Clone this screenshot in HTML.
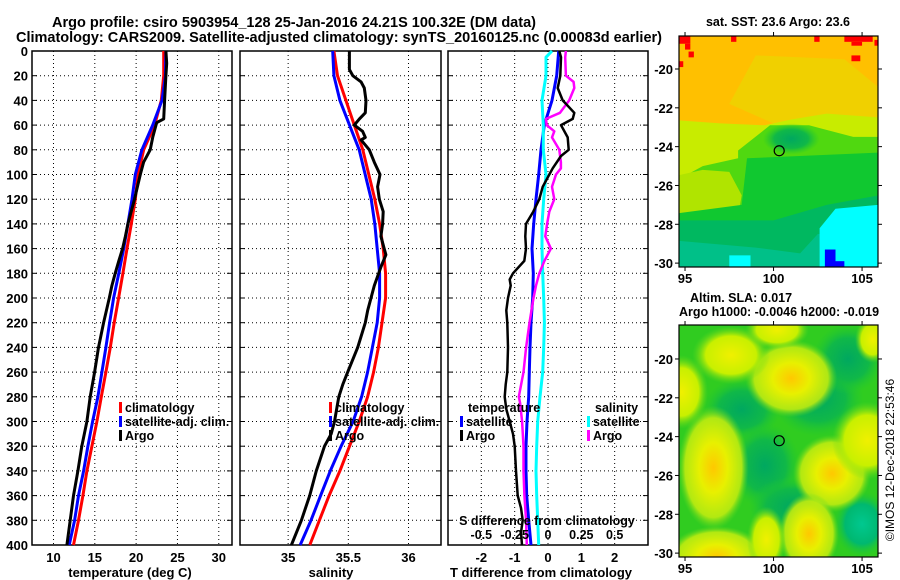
<!DOCTYPE html>
<html><head><meta charset="utf-8">
<style>
html,body{margin:0;padding:0;background:#fff;}
svg{display:block;font-family:"Liberation Sans",Arial,sans-serif;font-weight:bold;}
</style></head>
<body>
<svg id="fig" width="900" height="580" viewBox="0 0 900 580" xmlns="http://www.w3.org/2000/svg">
<defs>
<clipPath id="clipM1"><rect x="679" y="36" width="199" height="231"/></clipPath>
<clipPath id="clipM2"><rect x="679" y="325" width="199" height="232"/></clipPath>
<radialGradient id="gY"><stop offset="0" stop-color="#ffc800"/><stop offset="0.4" stop-color="#e8f000"/><stop offset="0.8" stop-color="#c0ec10" stop-opacity="0.9"/><stop offset="1" stop-color="#60d820" stop-opacity="0"/></radialGradient>
<radialGradient id="gL"><stop offset="0" stop-color="#f0f000"/><stop offset="0.65" stop-color="#c8f000"/><stop offset="1" stop-color="#60d820" stop-opacity="0"/></radialGradient>
<radialGradient id="gD"><stop offset="0" stop-color="#00a860"/><stop offset="0.6" stop-color="#10b848"/><stop offset="1" stop-color="#20c830" stop-opacity="0"/></radialGradient>
<radialGradient id="gT"><stop offset="0" stop-color="#00c890"/><stop offset="0.6" stop-color="#00b870"/><stop offset="1" stop-color="#20c830" stop-opacity="0"/></radialGradient>
</defs>
<g id="titles">
<text x="52" y="27" font-size="15" textLength="484" lengthAdjust="spacingAndGlyphs">Argo profile: csiro 5903954_128 25-Jan-2016 24.21S 100.32E (DM data)</text>
<text x="16" y="42" font-size="15" textLength="646" lengthAdjust="spacingAndGlyphs">Climatology: CARS2009. Satellite-adjusted climatology: synTS_20160125.nc (0.00083d earlier)</text>
</g>
<g id="plots"></g>
<g id="maps"></g>
</svg>
<script>
// ---------- data ----------
const depthTicks = [0,20,40,60,80,100,120,140,160,180,200,220,240,260,280,300,320,340,360,380,400];
const depthGrid = [0,20,40,60,80,100,120,140,160,180,200,220,240,260,280,300,320,340,360,380,400];
const tempTicks = [10,15,20,25,30];
const salTicks = [35,35.5,36];
const salTickLabels = ["35","35.5","36"];
const tdiffTicks = [-2,-1,0,1,2];
const sdiffTicks = [-0.5,-0.25,0,0.25,0.5];
const sdiffTickLabels = ["-0.5","-0.25","0","0.25","0.5"];

const climT = [23.33,23.33,23.05,22.24,20.91,20.22,19.90,19.41,18.89,18.40,17.88,17.35,16.87,16.34,15.78,15.25,14.65,14.04,13.56,13.03,12.42];
const satT = [23.6,23.55,23.13,22.0,20.7,19.9,19.5,19.0,18.5,17.9,17.27,16.79,16.34,15.86,15.37,14.73,14.16,13.64,13.03,12.55,11.9];
const argoTDepth = [0,10,20,40,55,58,60,70,80,90,100,120,140,150,160,170,180,190,200,220,240,260,280,300,320,340,360,380,400];
const argoT = [23.6,23.7,23.6,23.45,23.33,22.5,22.4,22.0,21.7,20.9,20.5,19.8,19.0,18.7,18.36,17.9,17.47,17.07,16.75,16.06,15.45,14.97,14.44,14.04,13.43,12.95,12.42,12.02,11.62];

const climS = [35.38,35.41,35.48,35.55,35.62,35.67,35.72,35.76,35.79,35.81,35.81,35.78,35.75,35.71,35.66,35.59,35.51,35.43,35.34,35.26,35.18];
const satS = [35.37,35.38,35.43,35.51,35.59,35.64,35.69,35.72,35.74,35.76,35.76,35.74,35.70,35.66,35.61,35.54,35.44,35.35,35.27,35.19,35.10];
const argoSDepth = [0,15,20,25,30,40,50,55,60,65,70,72,80,90,100,110,120,130,140,150,160,165,175,180,190,200,210,220,240,260,270,280,300,310,320,340,360,380,400];
const argoS = [35.509,35.509,35.537,35.606,35.633,35.647,35.641,35.592,35.550,35.619,35.641,35.606,35.674,35.716,35.763,35.743,35.757,35.790,35.785,35.771,35.798,35.812,35.771,35.752,35.716,35.688,35.661,35.641,35.578,35.495,35.454,35.421,35.385,35.358,35.302,35.234,35.179,35.110,35.027];

const satTdiff = [0.32,0.26,0.12,-0.11,-0.21,-0.28,-0.36,-0.43,-0.48,-0.44,-0.46,-0.51,-0.54,-0.56,-0.58,-0.63,-0.66,-0.66,-0.64,-0.58,-0.51];
const argoTdiffDepth = [0,5,20,30,40,50,55,60,70,80,85,95,100,110,120,130,140,150,160,170,180,185,190,200,210,220,240,260,270,280,290,300,310,320,340,360,370,380,390,400];
const argoTdiff = [0.34,0.39,0.37,0.29,0.44,0.79,0.74,0.39,0.59,0.62,0.39,0.14,0.04,-0.16,-0.26,-0.44,-0.66,-0.68,-0.66,-0.71,-1.05,-1.15,-1.12,-1.20,-1.25,-1.22,-1.20,-1.22,-1.27,-1.30,-1.25,-1.15,-1.05,-1.00,-0.96,-0.91,-0.81,-0.76,-0.81,-0.78];
const satSdiffDepth = [0,5,20,40,60,80,100,120,140,160,180,200,220,240,260,280,300,320,340,360,380,400];
const satSdiff = [0.03,-0.015,-0.015,-0.045,-0.035,-0.035,-0.015,-0.032,-0.045,-0.045,-0.04,-0.032,-0.027,-0.032,-0.04,-0.06,-0.077,-0.085,-0.09,-0.085,-0.077,-0.07];
const argoSdiffDepth = [0,5,20,25,30,40,50,55,60,65,70,80,90,95,100,110,120,130,140,150,160,170,180,190,200,220,240,260,280,285,300,320,340,360,380,400];
const argoSdiff = [0.134,0.129,0.134,0.192,0.197,0.159,0.090,-0.015,-0.010,0.047,0.030,0.085,0.097,0.097,0.060,0.030,0.047,0.010,-0.007,-0.020,0.022,-0.027,-0.065,-0.090,-0.109,-0.139,-0.164,-0.184,-0.219,-0.209,-0.194,-0.184,-0.184,-0.177,-0.164,-0.159];

const mapLatTicks = [-20,-22,-24,-26,-28,-30];
const mapLonTicks = [95,100,105];

// ---------- helpers ----------
const NS = "http://www.w3.org/2000/svg";
const plots = document.getElementById('plots');
const mapsG = document.getElementById('maps');
function mk(tag, attrs, parent){
  const e = document.createElementNS(NS, tag);
  for (const k in attrs) e.setAttribute(k, attrs[k]);
  (parent||plots).appendChild(e);
  return e;
}
const TOP = 51, BOT = 545;
function yD(d){ return TOP + (BOT-TOP)*d/400; }

function panel(name, x0, x1, xmin, xmax){
  const sx = v => x0 + (x1-x0)*(v-xmin)/(xmax-xmin);
  return {name, x0, x1, sx};
}
const p1 = panel('temperature', 32, 232, 7.4, 31.6);
const p2 = panel('salinity', 240, 441, 34.6, 36.27);
const p3 = panel('difference', 448, 648, -3, 3);
const sxS = v => p3.sx(v*4);

function frame(p, xticks, name){
  const g = mk('g', {});
  
  
  depthTicks.forEach(d=>{
    if (d===0||d===400) return;
    const gl = mk('line', {x1:p.x0, x2:p.x1, y1:yD(d), y2:yD(d), stroke:'#000', 'stroke-width':1, 'stroke-dasharray':'1,3'}, g);
    
    
    mk('line', {x1:p.x0, x2:p.x0+5, y1:yD(d), y2:yD(d), stroke:'#000'}, g);
    mk('line', {x1:p.x1-5, x2:p.x1, y1:yD(d), y2:yD(d), stroke:'#000'}, g);
  });
  xticks.forEach(v=>{
    const x = p.sx(v);
    const gl = mk('line', {x1:x, x2:x, y1:TOP, y2:BOT, stroke:'#000', 'stroke-width':1, 'stroke-dasharray':'1,3'}, g);
    
    
  });
  mk('rect', {x:p.x0, y:TOP, width:p.x1-p.x0, height:BOT-TOP, fill:'none', stroke:'#000', 'stroke-width':1.5}, g);
  return g;
}
function line(p, sx, vals, depths, color, w, name){
  const pts = vals.map((v,i)=> sx(v).toFixed(1)+','+yD(depths[i]).toFixed(1)).join(' ');
  const e = mk('polyline', {points:pts, fill:'none', stroke:color, 'stroke-width':w, 'stroke-linejoin':'round'});
  
  
  return e;
}
function txt(str, x, y, size, anchor, name, parent){
  const e = mk('text', {x, y, 'font-size':size, 'text-anchor':anchor||'start'}, parent);
  e.textContent = str;
  
  
  return e;
}
function legend(x, y, color, label, name){
  const m = mk('rect', {x:x, y:y-10, width:3, height:11, fill:color});
  
  
  txt(label, x+6, y, 12.5, 'start', name);
}

// ---------- panel 1 ----------
frame(p1, tempTicks, 'temperature-panel');
depthTicks.forEach(d=> txt(String(d), 28, yD(d)+5, 13, 'end', 'y-tick-label'));
tempTicks.forEach(v=> txt(String(v), p1.sx(v), 562, 13, 'middle', 'x-tick-temperature'));
txt('temperature (deg C)', 130, 577, 13, 'middle', 'x-axis-title-temperature');
line(p1, p1.sx, climT, depthGrid, '#ff0000', 3, 'climatology-temperature-line');
line(p1, p1.sx, satT, depthGrid, '#0000ff', 3, 'satellite-temperature-line');
line(p1, p1.sx, argoT, argoTDepth, '#000000', 3, 'argo-temperature-line');
legend(119, 412, '#ff0000', 'climatology', 'legend-climatology');
legend(119, 426, '#0000ff', 'satellite-adj. clim.', 'legend-satellite-adj');
legend(119, 440, '#000000', 'Argo', 'legend-argo');

// ---------- panel 2 ----------
frame(p2, salTicks, 'salinity-panel');
salTicks.forEach((v,i)=> txt(salTickLabels[i], p2.sx(v), 562, 13, 'middle', 'x-tick-salinity'));
txt('salinity', 331, 577, 13, 'middle', 'x-axis-title-salinity');
line(p2, p2.sx, climS, depthGrid, '#ff0000', 3, 'climatology-salinity-line');
line(p2, p2.sx, satS, depthGrid, '#0000ff', 3, 'satellite-salinity-line');
line(p2, p2.sx, argoS, argoSDepth, '#000000', 3, 'argo-salinity-line');
legend(329, 412, '#ff0000', 'climatology', 'legend-climatology-2');
legend(329, 426, '#0000ff', 'satellite-adj. clim.', 'legend-satellite-adj-2');
legend(329, 440, '#000000', 'Argo', 'legend-argo-2');

// ---------- panel 3 ----------
frame(p3, tdiffTicks, 'difference-panel');
tdiffTicks.forEach(v=> txt(String(v), p3.sx(v), 562, 13, 'middle', 'x-tick-tdiff'));
txt('T difference from climatology', 541, 577, 13, 'middle', 'x-axis-title-tdiff');
line(p3, p3.sx, satTdiff, depthGrid, '#0000ff', 3, 'satellite-tdiff-line');
line(p3, sxS, satSdiff, satSdiffDepth, '#00ffff', 3, 'satellite-sdiff-line');
line(p3, sxS, argoSdiff, argoSdiffDepth, '#ff00ff', 2.5, 'argo-sdiff-line');
line(p3, p3.sx, argoTdiff, argoTdiffDepth, '#000000', 2.5, 'argo-tdiff-line');
txt('temperature', 468, 412, 12.5, 'start', 'legend-header-temperature');
legend(460, 426, '#0000ff', 'satellite', 'legend-t-satellite');
legend(460, 440, '#000000', 'Argo', 'legend-t-argo');
txt('salinity', 595, 412, 12.5, 'start', 'legend-header-salinity');
legend(587, 426, '#00ffff', 'satellite', 'legend-s-satellite');
legend(587, 440, '#ff00ff', 'Argo', 'legend-s-argo');
txt('S difference from climatology', 547, 525, 12.5, 'middle', 'secondary-axis-title-sdiff');
sdiffTicks.forEach((v,i)=> txt(sdiffTickLabels[i], sxS(v), 539, 12.5, 'middle', 'x-tick-sdiff'));

// ---------- maps ----------
function mapFrame(top, bot, latTop, latBot){
  const L=679, R=878, lonL=94.66, lonR=105.9;
  const mx = lon => L + (R-L)*(lon-lonL)/(lonR-lonL);
  const my = lat => top + (bot-top)*(latTop-lat)/(latTop-latBot);
  return {L,R,top,bot,mx,my};
}
const m1 = mapFrame(36, 267, -18.3, -30.2);
const m2 = mapFrame(325, 557, -18.25, -30.2);

function poly(m, pts, fill, parent, name){
  const e = mk('polygon', {points: pts.map(p=> m.mx(p[0]).toFixed(1)+','+m.my(p[1]).toFixed(1)).join(' '), fill}, parent);
  
  
}
function rectD(m, lon0, lat0, lon1, lat1, fill, parent, name){
  const e = mk('rect', {x:m.mx(lon0), y:m.my(lat0), width:m.mx(lon1)-m.mx(lon0), height:m.my(lat1)-m.my(lat0), fill}, parent);
  
  
}
function blob(m, lon, lat, rlon, rlat, grad, parent){
  const e = mk('ellipse', {cx:m.mx(lon), cy:m.my(lat), rx:Math.abs(m.mx(lon+rlon)-m.mx(lon)), ry:Math.abs(m.my(lat-rlat)-m.my(lat)), fill:'url(#'+grad+')'}, parent);
  
  
}
function mapAxes(m, name){
  const g = mk('g', {}, mapsG);
  
  
  mk('rect', {x:m.L, y:m.top, width:m.R-m.L, height:m.bot-m.top, fill:'none', stroke:'#000', 'stroke-width':1.2}, g);
  mapLatTicks.forEach(v=>{
    const y = m.my(v);
    mk('line', {x1:m.L-4, x2:m.L, y1:y, y2:y, stroke:'#000'}, g);
    mk('line', {x1:m.R, x2:m.R+4, y1:y, y2:y, stroke:'#000'}, g);
    txt(String(v), m.L-6, y+5, 13, 'end', 'map-lat-tick', g);
  });
  mapLonTicks.forEach(v=>{
    const x = m.mx(v);
    mk('line', {x1:x, x2:x, y1:m.bot, y2:m.bot+4, stroke:'#000'}, g);
    mk('line', {x1:x, x2:x, y1:m.top-4, y2:m.top, stroke:'#000'}, g);
    txt(String(v), x, m.bot+16, 13, 'middle', 'map-lon-tick', g);
  });
  const c = mk('circle', {cx:m.mx(100.32), cy:m.my(-24.21), r:5, fill:'none', stroke:'#000', 'stroke-width':1.2}, g);
  
  
}

// map 1: SST
const g1 = mk('g', {'clip-path':'url(#clipM1)'}, mapsG);


rectD(m1, 94, -18, 106, -31, '#ffc000', g1, 'sst-warm');
poly(m1, [[99,-19.3],[104,-19.5],[106,-21],[106,-22.5],[100,-22.8],[97.5,-21.8]], '#f0d000', g1, 'sst-yellow');
poly(m1, [[94,-22.6],[97,-22.8],[99.5,-22.9],[101,-22.6],[103,-22.3],[106,-22.5],[106,-31],[94,-31]], '#c8ec00', g1, 'sst-yellow-green');
poly(m1, [[98,-24.2],[99.8,-22.9],[102,-22.9],[104.5,-23.5],[106,-23.5],[106,-31],[94,-31],[94,-26],[96,-25],[98,-24.6]], '#50d810', g1, 'sst-green');
blob(m1, 101, -23.6, 1.6, 0.8, 'gD', g1);
poly(m1, [[94,-25.6],[96,-25.2],[97.5,-25.3],[98.2,-26.5],[98,-27.6],[96,-28],[94,-28]], '#b0e400', g1, 'sst-yellow-left');
poly(m1, [[98.5,-24.6],[106,-24.3],[106,-31],[94,-31],[94,-27.5],[98.2,-27]], '#10c830', g1, 'sst-dark-green');
poly(m1, [[94,-27.8],[100,-27.8],[103,-27],[106,-26.5],[106,-31],[94,-31]], '#00b860', g1, 'sst-teal-green');
poly(m1, [[94,-28.8],[99,-29.2],[101.5,-29.5],[102.5,-28.5],[106,-28.5],[106,-31],[94,-31]], '#00c088', g1, 'sst-teal');
poly(m1, [[103.5,-27.2],[105.9,-27],[105.9,-30.3],[102.6,-30.3],[102.6,-28.2]], '#00ffff', g1, 'sst-cyan');
rectD(m1, 97.5, -29.6, 98.7, -30.3, '#00ffff', g1, 'sst-cyan-patch');
rectD(m1, 102.9, -29.3, 103.5, -30.3, '#0000ff', g1, 'sst-blue-patch');
rectD(m1, 103.4, -29.9, 104.0, -30.3, '#0000ff', g1, 'sst-blue-patch');
[[94.66,-18.3,95.3,-18.7],[95.0,-18.7,95.3,-19.0],[94.66,-19.6,94.9,-19.9],[95.2,-19.1,95.5,-19.4],[97.6,-18.3,97.9,-18.6],[102.3,-18.3,102.6,-18.6],[104.0,-18.3,105.6,-18.6],[104.4,-18.6,105.0,-18.8],[104.4,-19.3,104.9,-19.6],[105.7,-18.5,105.9,-18.8]].forEach(r=> rectD(m1, r[0], r[1], r[2], r[3], '#ff0000', g1, 'sst-hot-pixel'));
mapAxes(m1, 'sst-map');
txt('sat. SST: 23.6 Argo: 23.6', 778, 26, 12.5, 'middle', 'sst-map-title');

// map 2: SLA
const g2 = mk('g', {'clip-path':'url(#clipM2)'}, mapsG);


rectD(m2, 94, -18, 106, -31, '#30cc20', g2, 'sla-background');
blob(m2, 98.2, -22.6, 2.2, 1.6, 'gD', g2);
blob(m2, 99.5, -25.5, 2.0, 2.2, 'gD', g2);
blob(m2, 102.5, -22.0, 2.6, 2.0, 'gD', g2);
blob(m2, 101, -27.6, 2.4, 1.5, 'gD', g2);
blob(m2, 105, -28.5, 1.6, 1.7, 'gT', g2);
blob(m2, 104.2, -20.0, 2.0, 1.8, 'gD', g2);
blob(m2, 96.6, -25.6, 2.0, 3.2, 'gY', g2);
blob(m2, 101, -21.0, 2.6, 2.0, 'gY', g2);
blob(m2, 103.3, -25.9, 2.2, 2.0, 'gY', g2);
blob(m2, 102.0, -29.0, 1.7, 2.1, 'gY', g2);
blob(m2, 96.8, -30.2, 2.8, 1.6, 'gY', g2);
blob(m2, 94.8, -21.7, 1.5, 1.9, 'gL', g2);
blob(m2, 97.6, -19.8, 2.2, 1.5, 'gL', g2);
blob(m2, 105.3, -24.2, 2.0, 2.0, 'gL', g2);
blob(m2, 100.2, -18.5, 1.8, 1.0, 'gL', g2);
blob(m2, 99.6, -29.3, 1.1, 1.7, 'gL', g2);
blob(m2, 105.6, -19.0, 1.0, 1.2, 'gL', g2);
mapAxes(m2, 'sla-map');
txt('Altim. SLA: 0.017', 741, 302, 12.5, 'middle', 'sla-map-title');
txt('Argo h1000: -0.0046 h2000: -0.019', 779, 316, 12.5, 'middle', 'sla-map-subtitle');

const stamp = txt('©IMOS 12-Dec-2018 22:53:46', 0, 0, 12, 'middle', 'timestamp-label', mapsG);
stamp.setAttribute('font-weight', 'normal');
stamp.setAttribute('transform', 'translate(894,460) rotate(-90)');
</script>
</body></html>
